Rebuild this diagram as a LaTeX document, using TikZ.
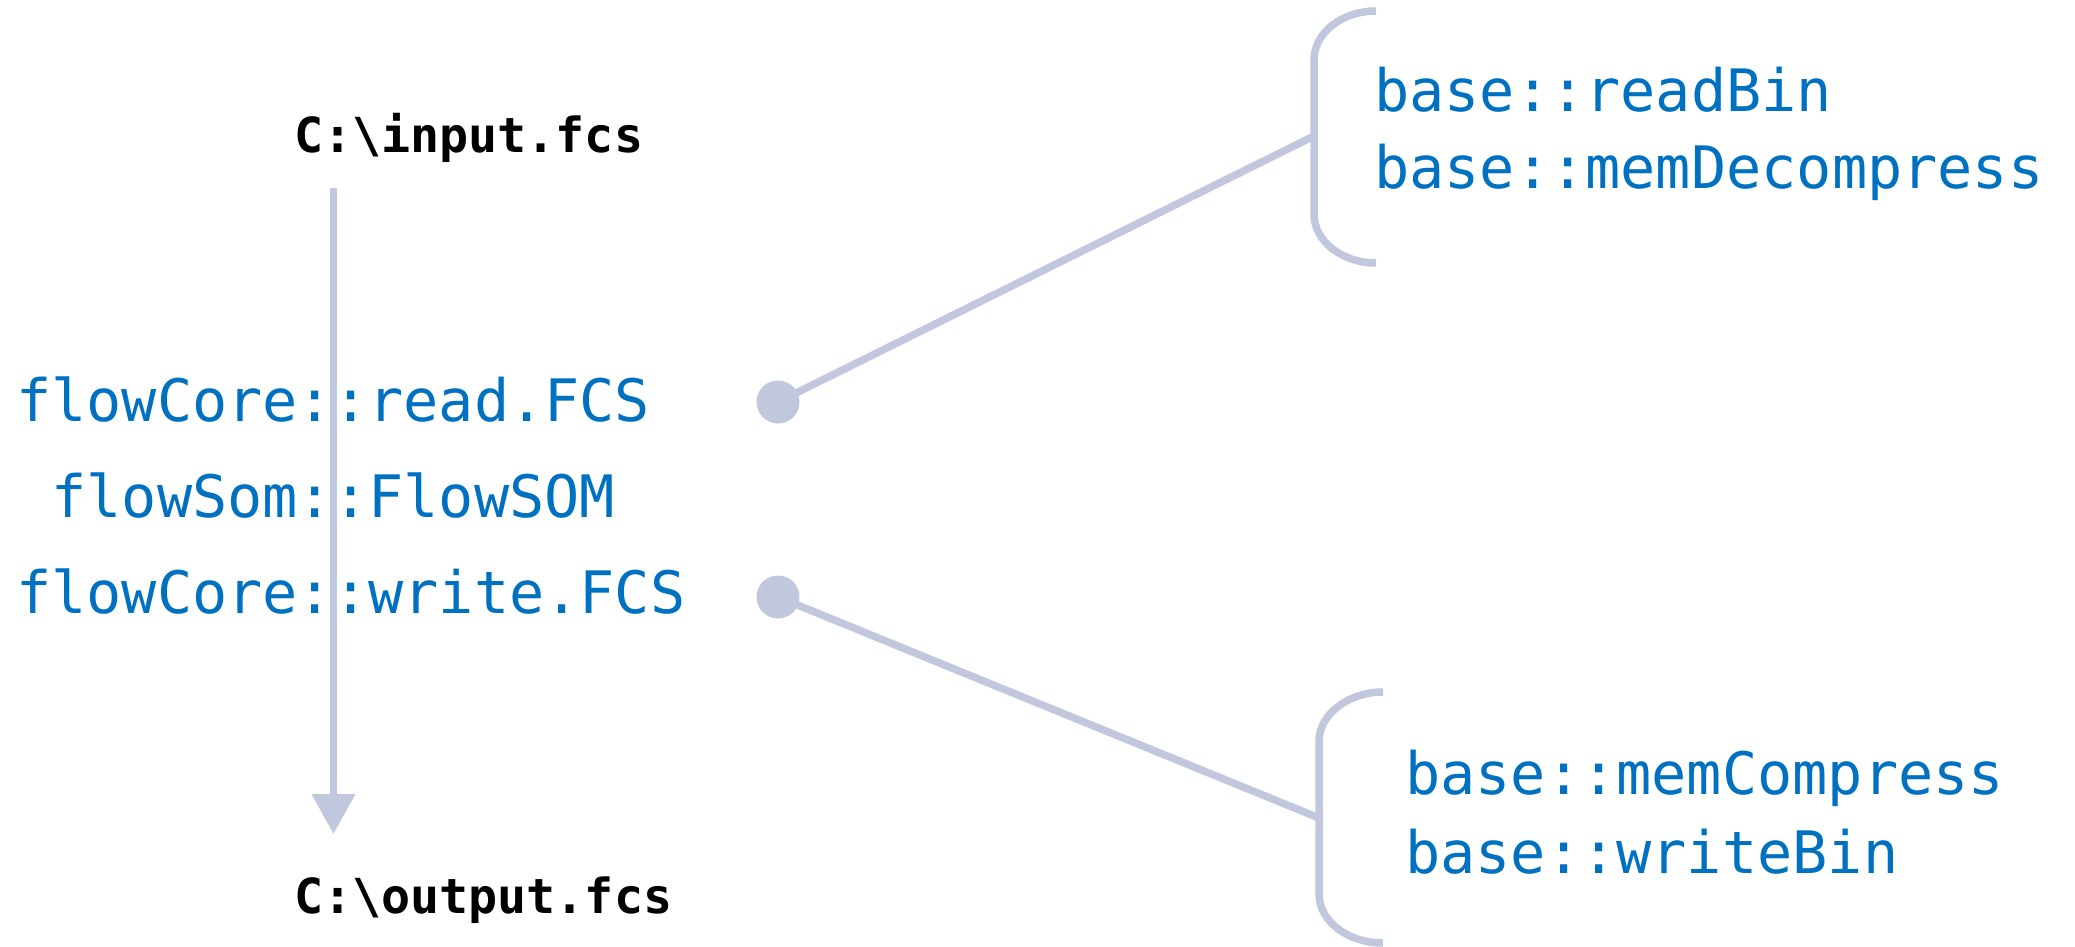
\documentclass[tikz,border=0pt]{standalone}
\usepackage{fontspec}
\usetikzlibrary{arrows.meta}
\newfontfamily\monofn{DejaVu Sans Mono}
\definecolor{fnblue}{RGB}{0,112,192}
\definecolor{lav}{RGB}{193,199,221}
\tikzset{
  fn/.style={anchor=base west, inner sep=0pt, text=fnblue, font=\monofn\fontsize{58.5}{70}\selectfont},
  file/.style={anchor=base west, inner sep=0pt, text=black, font=\monofn\bfseries\fontsize{48.3}{58}\selectfont},
  conn/.style={draw=lav, line width=7.5pt},
  dot/.style={circle, fill=lav, minimum size=43pt, inner sep=0pt},
}
\begin{document}
\begin{tikzpicture}[x=1pt,y=-1pt]
\useasboundingbox (0,0) rectangle (2075,947);
% file names
\node[file] (in) at (294,153) {C:\textbackslash input.fcs};
\node[file] (out) at (294,913) {C:\textbackslash output.fcs};
% main arrow
\coordinate (astart) at (333.5,188);
\coordinate (aend) at (333.5,834);
\draw[conn, -{Triangle[width=42pt,length=40pt]}, fill=lav] (astart) -- (aend);
% function names
\node[fn] (read) at (16,421) {flowCore::read.FCS};
\node[fn] (som) at (51.2,517) {flowSom::FlowSOM};
\node[fn] (write) at (16,613) {flowCore::write.FCS};
% dots
\node[dot] (d1) at (778,402) {};
\node[dot] (d2) at (778,597) {};
% brace 1
\coordinate (j1) at (1314,136);
\draw[conn, line cap=butt] (1376,11) .. controls (1341.8,11) and (1314,32.9) .. (1314,60)
  -- (1314,214) .. controls (1314,241.1) and (1341.8,263) .. (1376,263);
\draw[conn] (d1.center) -- (j1);
\node[fn] (rb) at (1374,112) {base::readBin};
\node[fn] (md) at (1374,188) {base::memDecompress};
% brace 2
\coordinate (j2) at (1319,818);
\draw[conn, line cap=butt] (1383,692) .. controls (1347.7,692) and (1319,714.9) .. (1319,741)
  -- (1319,894) .. controls (1319,921.1) and (1347.7,943) .. (1383,943);
\draw[conn] (d2.center) -- (j2);
\node[fn] (mc) at (1405,794) {base::memCompress};
\node[fn] (wb) at (1405,873) {base::writeBin};
\end{tikzpicture}
\end{document}
